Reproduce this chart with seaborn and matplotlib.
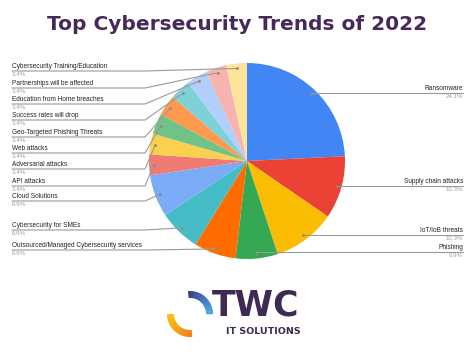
#!/usr/bin/env python3

import matplotlib
matplotlib.use("Agg")
import matplotlib.pyplot as plt
from matplotlib.patches import Wedge
import numpy as np
import seaborn as sns

# data
trends = [
    "Ransomware",
    "Supply chain attacks",
    "IoT/IoB threats",
    "Phishing",
    "Outsourced/Managed Cybersecurity services",
    "Cybersecurity for SMEs",
    "Cloud Solutions",
    "API attacks",
    "Adversarial attacks",
    "Web attacks",
    "Geo-Targeted Phishing Threats",
    "Success rates will drop",
    "Education from Home breaches",
    "Partnerships will be affected",
    "Cybersecurity Training/Education",
]
shares = [24.1, 10.3, 10.3, 6.9, 6.9, 6.9, 6.9, 3.4, 3.4, 3.4, 3.4, 3.4, 3.4, 3.4, 3.4]
colors = [
    "#4285F4", "#EA4335", "#FBBC04", "#34A853", "#FF6D01",
    "#46BDC6", "#7BAAF7", "#F07B72", "#FCD04F", "#71C287",
    "#FF994D", "#7ED1D7", "#B3CEFB", "#F7B4AE", "#FDE49B",
]

# layout: y of the leader line under each label (pixels from top)
label_y = [93, 186, 235, 252, 250, 230, 201, 186, 169, 153, 137, 120, 104, 88, 71]
right_side = [True, True, True, True] + [False] * 11

W, H = 474, 355
cx, cy, r = 247, 161, 98
title_col = "#46295a"

sns.set_theme(style="white")
plt.rcParams["font.family"] = ["Liberation Sans", "DejaVu Sans"]

fig = plt.figure(figsize=(W / 100, H / 100), dpi=100)
ax = fig.add_axes([0, 0, 1, 1])

palette = sns.color_palette(colors)
ax.pie(shares, colors=palette, startangle=-90, counterclock=True,
       center=(cx, cy), radius=r, wedgeprops=dict(linewidth=0),
       frame=True)
ax.set_xlim(0, W)
ax.set_ylim(H, 0)
ax.axis("off")

total = sum(shares)
cum = 0.0
for name, val, ly, right in zip(trends, shares, label_y, right_side):
    mid = (cum + val / 2) / total * 2 * np.pi
    cum += val
    axp = cx + 0.95 * r * np.sin(mid)
    ayp = cy - 0.95 * r * np.cos(mid)
    pct = f"{val:.1f}%"
    if right:
        ax.plot([axp, 463], [ly, ly], color="#9a9a9a", lw=0.8)
        ax.text(463, ly - 1, name, ha="right", va="bottom",
                fontsize=4.7, color="#222222")
        ax.text(463, ly + 1.2, pct, ha="right", va="top",
                fontsize=4.4, color="#a0a0a0")
    else:
        ax.plot([12, 145, axp], [ly, ly, ayp], color="#9a9a9a", lw=0.8)
        ax.text(12, ly - 1, name, ha="left", va="bottom",
                fontsize=4.7, color="#222222")
        ax.text(12, ly + 1.2, pct, ha="left", va="top",
                fontsize=4.4, color="#a0a0a0")
    ax.plot(axp, ayp, "o", ms=1, color="#8a8a8a")

ax.text(237, 25, "Top Cybersecurity Trends of 2022", ha="center",
        va="center", fontsize=14.5, fontweight="bold", color=title_col,
        family="DejaVu Sans")

# logo
lx, ly0, lr = 190, 314, 23
blue_a, blue_b = np.array([0.22, 0.24, 0.55]), np.array([0.30, 0.66, 0.88])
yel_a, yel_b = np.array([0.98, 0.76, 0.05]), np.array([0.95, 0.50, 0.10])
n = 12
for i in range(n):
    t = i / (n - 1)
    # inverted y: 270 = top, 360 = right
    ax.add_patch(Wedge((lx, ly0), lr, 265 + i * 95 / n, 265 + (i + 1.1) * 95 / n,
                       width=7, color=blue_a + (blue_b - blue_a) * t, lw=0))
    ax.add_patch(Wedge((lx, ly0), lr, 180 - i * 95 / n - 95 / n * 1.1, 180 - i * 95 / n,
                       width=7, color=yel_a + (yel_b - yel_a) * t, lw=0))
ax.text(256, 306, "TWC", ha="center", va="center", fontsize=25,
        fontweight="bold", color="#3e2a52", family="DejaVu Sans")
ax.text(263, 331, "IT SOLUTIONS", ha="center", va="center", fontsize=6.8,
        fontweight="bold", color="#3e2a52", family="DejaVu Sans")

fig.savefig("out.png", dpi=100, facecolor="white")
